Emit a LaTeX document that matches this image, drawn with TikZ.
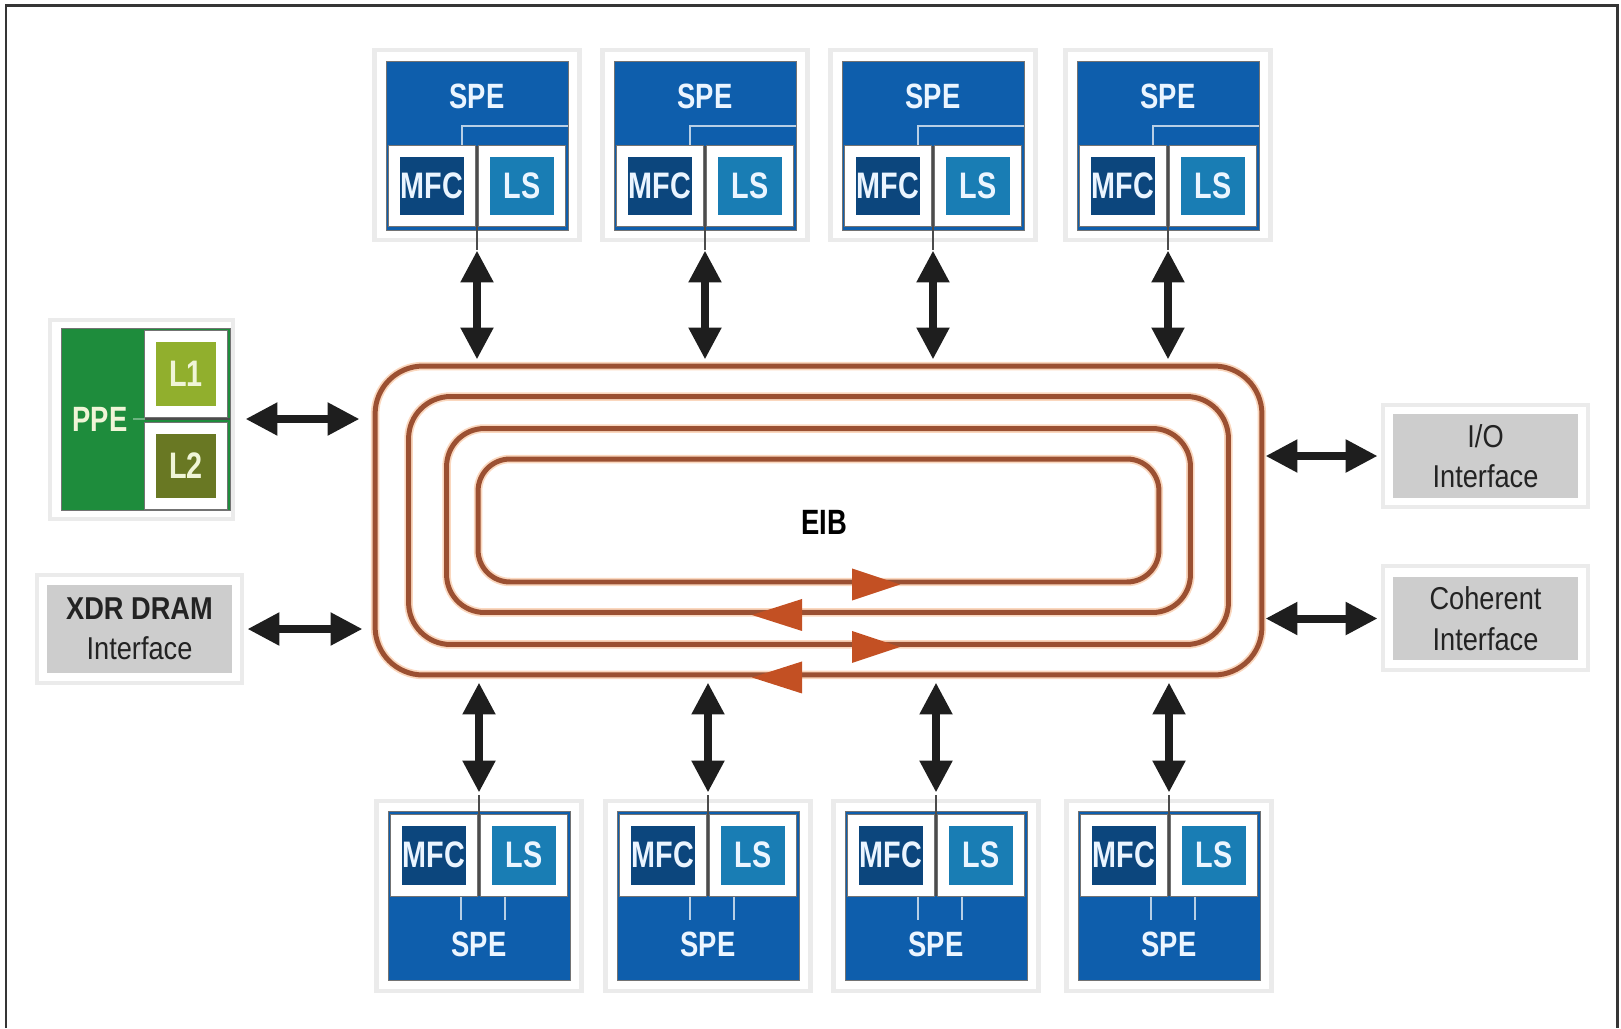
\documentclass[tikz,border=0pt]{standalone}
\usepackage{fontspec}
\usepackage{tikz}
\usetikzlibrary{arrows.meta,positioning,calc}
\newfontfamily\condfont[FakeStretch=0.78]{Liberation Sans}
\newfontfamily\ifacefont[FakeStretch=0.86]{Liberation Sans}
\definecolor{speblue}{RGB}{14,94,172}
\definecolor{mfcblue}{RGB}{12,70,125}
\definecolor{lsblue}{RGB}{25,125,180}
\definecolor{spetext}{RGB}{235,245,255}
\definecolor{ppegreen}{RGB}{30,140,60}
\definecolor{lonegreen}{RGB}{145,175,45}
\definecolor{ltwogreen}{RGB}{105,120,35}
\definecolor{ppetext}{RGB}{240,245,215}
\definecolor{ifacegray}{RGB}{205,205,205}
\definecolor{ifacetext}{RGB}{35,35,35}
\definecolor{ringline}{RGB}{155,80,50}
\definecolor{ringglow}{RGB}{250,215,190}
\definecolor{flowred}{RGB}{195,80,35}
\definecolor{arrowblack}{RGB}{30,30,30}
\tikzset{
	panel/.style = {
		draw=black!8,
		line width=2.5pt,
		fill=white,
		inner sep=0pt,
		minimum width=4.1cm,
		minimum height=3.8cm
	},
	speblock/.style = {
		fill=speblue,
		draw=black!55,
		line width=0.5pt,
		inner sep=0pt,
		minimum width=3.64cm,
		minimum height=3.38cm
	},
	unitbox/.style = {
		preaction={draw=black!55, line width=0.26cm},
		draw=white,
		line width=0.22cm,
		inner sep=0pt,
		minimum width=1.5cm,
		minimum height=1.4cm,
		text=spetext,
		font=\condfont\bfseries\fontsize{21}{21}\selectfont
	},
	spelabel/.style = {
		text=spetext,
		inner sep=0pt,
		font=\condfont\bfseries\fontsize{20}{22}\selectfont
	},
	ppeblock/.style = {
		fill=ppegreen,
		draw=black!55,
		line width=0.5pt,
		inner sep=0pt,
		minimum width=3.38cm,
		minimum height=3.64cm
	},
	cachebox/.style = {
		unitbox,
		minimum width=1.42cm,
		minimum height=1.5cm,
		text=ppetext
	},
	ifacebox/.style = {
		fill=ifacegray,
		inner sep=0pt,
		minimum width=3.7cm,
		align=center,
		text=ifacetext,
		font=\ifacefont\fontsize{18}{23}\selectfont
	},
	ring/.style = {
		preaction={draw=ringglow, line width=0.17cm},
		draw=ringline,
		line width=0.1cm,
		inner sep=0pt
	},
	biarrow/.style = {
		<->,
		>={Triangle[length=0.64cm,width=0.62cm]},
		line width=0.16cm,
		draw=arrowblack
	},
	divider/.style = {
		draw=black!70,
		line width=0.6pt
	},
	thinline/.style = {
		draw=white!70!speblue,
		line width=0.6pt
	},
	flow/.style = {
		fill=flowred
	}
}

\begin{document}
\begin{tikzpicture}[x=0.02cm, y=-0.02cm]
	\useasboundingbox (0,0) rectangle (1621,1028);
	
	% --- Frame ---
	\draw[arrowblack!90, line width=0.06cm] (6,1028) -- (6,5) -- (1617,5) -- (1617,1028);
	
	% --- EIB rings ---
	\node[ring, minimum width=17.74cm, minimum height=6.18cm, rounded corners=0.96cm] (ring1) at (818.5,520.5) {};
	\node[ring, minimum width=16.4cm, minimum height=4.96cm, rounded corners=0.84cm] (ring2) at (818.5,520.5) {};
	\node[ring, minimum width=14.88cm, minimum height=3.68cm, rounded corners=0.76cm] (ring3) at (818.5,520.5) {};
	\node[ring, minimum width=13.62cm, minimum height=2.46cm, rounded corners=0.64cm] (ring4) at (818.5,520.5) {};
	\node[spelabel, text=black] (eib) at (824,522) {EIB};
	
	% direction of each ring
	\fill[flow] ($(ring4.south)+(33.5,-16)$) -- ++(48,16) -- ++(-48,16) -- cycle;
	\fill[flow] ($(ring3.south)+(-16.5,-16)$) -- ++(-50,16) -- ++(50,16) -- cycle;
	\fill[flow] ($(ring2.south)+(33.5,-16)$) -- ++(48,16) -- ++(-48,16) -- cycle;
	\fill[flow] ($(ring1.south)+(-16.5,-16)$) -- ++(-50,16) -- ++(50,16) -- cycle;
	
	% --- SPE, top row ---
	\foreach \i/\cx in {1/477,2/705,3/933,4/1168} {
		\node[panel] (panT\i) at (\cx,145) {};
		\node[speblock] (speT\i) at (\cx,145.5) {};
		\draw[thinline] (\cx-15,146) |- (\cx+91,126);
		\node[unitbox, fill=mfcblue] (mfcT\i) at (\cx-45,186) {MFC};
		\node[unitbox, fill=lsblue] (lsT\i) at (\cx+45,186) {LS};
		\node[spelabel] at (\cx,96) {SPE};
		\draw[divider] ($(speT\i.south)+(0,-84)$) -- ($(speT\i.south)+(0,20)$);
		\draw[biarrow, shorten <=0.4cm, shorten >=0.08cm] (speT\i.south) -- (speT\i.south |- ring1.north);
	}
	
	% --- SPE, bottom row ---
	\foreach \i/\cx in {1/479,2/708,3/936,4/1169} {
		\node[panel] (panB\i) at (\cx,896) {};
		\node[speblock] (speB\i) at (\cx,896) {};
		\draw[thinline] (\cx-18,896) -- (\cx-18,920);
		\draw[thinline] (\cx+26,896) -- (\cx+26,920);
		\node[unitbox, fill=mfcblue] (mfcB\i) at (\cx-45,855) {MFC};
		\node[unitbox, fill=lsblue] (lsB\i) at (\cx+45,855) {LS};
		\node[spelabel] at (\cx,944) {SPE};
		\draw[divider] (speB\i.center) -- ($(speB\i.north)+(0,-16)$);
		\draw[biarrow, shorten <=0.1cm, shorten >=0.37cm] (speB\i.north |- ring1.south) -- (speB\i.north);
	}
	
	% --- PPE ---
	\node[panel, minimum width=3.66cm, minimum height=3.98cm] (panPPE) at (141.5,419.5) {};
	\node[ppeblock] (ppe) at (145.5,419) {};
	\node[cachebox, fill=lonegreen] (l1) at (186,374) {L1};
	\node[cachebox, fill=ltwogreen] (l2) at (186,466) {L2};
	\node[spelabel, text=ppetext] at (100,419) {PPE};
	\draw[thinline, draw=white!35!ppegreen] (ppe.east -| l1.west) -- ++(-12,0);
	\draw[divider] (ppe.east -| l1.west) -- (ppe.east);
	\draw[biarrow, shorten <=0.3cm, shorten >=0.26cm] (ppe.east) -- (ppe.east -| ring1.west);
	
	% --- Interfaces ---
	\node[panel, minimum width=4.1cm, minimum height=2.16cm] (panXDR) at (139.5,629) {};
	\node[ifacebox, minimum height=1.76cm] (xdr) at (139.5,629) {\textbf{XDR DRAM}\\Interface};
	\draw[biarrow, shorten <=0.3cm, shorten >=0.2cm] (xdr.east) -- (xdr.east -| ring1.west);
	
	\node[panel, minimum width=4.1cm, minimum height=2.04cm] (panIO) at (1485.5,456) {};
	\node[ifacebox, minimum height=1.68cm] (io) at (1485.5,456) {I/O\\Interface};
	\draw[biarrow, shorten <=0.02cm, shorten >=0.3cm] (io.west -| ring1.east) -- (io.west);
	
	\node[panel, minimum width=4.1cm, minimum height=2.08cm] (panCOH) at (1485.5,618) {};
	\node[ifacebox, minimum height=1.66cm] (coh) at (1485.5,618.5) {Coherent\\Interface};
	\draw[biarrow, shorten <=0.02cm, shorten >=0.3cm] (coh.west -| ring1.east) -- (coh.west);
	
\end{tikzpicture}
\end{document}
